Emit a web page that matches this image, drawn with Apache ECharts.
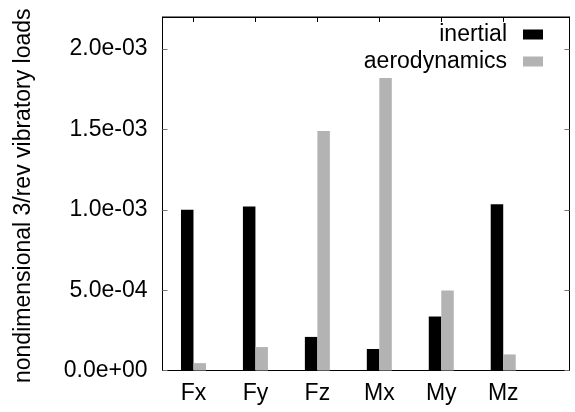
<!DOCTYPE html>
<html><head><meta charset="utf-8">
<script src="https://cdn.jsdelivr.net/npm/echarts@6/dist/echarts.min.js"></script>
<style>html,body{margin:0;padding:0;background:#fff}#c{width:575px;height:412px}</style>
</head><body><div id="c"></div>
<script>
const categories = ['Fx', 'Fy', 'Fz', 'Mx', 'My', 'Mz'];
const inertial = [1.00e-3, 1.02e-3, 0.209e-3, 0.134e-3, 0.336e-3, 1.035e-3];
const aerodynamics = [0.046e-3, 0.146e-3, 1.49e-3, 1.82e-3, 0.498e-3, 0.10e-3];
const yTicks = [0, 5e-4, 1e-3, 1.5e-3, 2e-3];
const seriesNames = ['inertial', 'aerodynamics'];
const yTitle = 'nondimensional 3/rev vibratory loads';

const FONT = 'Liberation Sans, Arial, Helvetica, sans-serif';
const FS = 23;
function fmt(v) {
  if (Math.abs(v) < 1e-12) return '0.0e+00';
  const s = v.toExponential(1);
  const parts = s.split('e');
  const n = parseInt(parts[1], 10);
  return parts[0] + 'e' + (n < 0 ? '-' : '+') + String(Math.abs(n)).padStart(2, '0');
}
const catIdx = categories.map((c, i) => i);
const chart = echarts.init(document.getElementById('c'), null, {renderer: 'canvas'});
const xCommon = {type: 'value', min: -0.5, max: 6.07, splitLine: {show: false},
  axisLine: {show: true, onZero: false, lineStyle: {color: '#000', width: 1}}};
const yCommon = {type: 'value', min: 0, max: 2.2e-3, splitLine: {show: false},
  axisLine: {show: true, onZero: false, lineStyle: {color: '#000', width: 1}}};
chart.setOption({
  animation: false,
  backgroundColor: '#fff',
  grid: {left: 162.5, top: 17, right: 5.5, bottom: 41.5, show: true, borderColor: '#000', borderWidth: 1, backgroundColor: 'transparent'},
  legend: {
    orient: 'vertical', right: 32, top: 23, align: 'right', itemGap: 4, padding: 0,
    itemWidth: 20, itemHeight: 10, icon: 'rect',
    textStyle: {fontFamily: FONT, fontSize: FS, color: '#000', padding: [0, 11, 0, 0]},
    data: seriesNames
  },
  xAxis: [
    Object.assign({}, xCommon, {position: 'bottom',
      axisTick: {show: false},
      axisLabel: {customValues: catIdx, formatter: v => categories[Math.round(v)] || '', fontFamily: FONT, fontSize: FS, color: '#000', margin: 12}}),
    Object.assign({}, xCommon, {position: 'top',
      axisTick: {show: true, inside: true, length: 5, customValues: catIdx, lineStyle: {color: '#000'}},
      axisLabel: {show: false}})
  ],
  yAxis: [
    Object.assign({}, yCommon, {position: 'left',
      axisTick: {show: true, inside: true, length: 5, customValues: yTicks, lineStyle: {color: '#777'}},
      axisLabel: {customValues: yTicks, formatter: fmt, fontFamily: FONT, fontSize: FS, color: '#000', margin: 15}}),
    Object.assign({}, yCommon, {position: 'right',
      axisTick: {show: true, inside: true, length: 5, customValues: yTicks, lineStyle: {color: '#777'}},
      axisLabel: {show: false}})
  ],
  series: [
    {name: seriesNames[0], type: 'bar', xAxisIndex: 0, yAxisIndex: 0, barWidth: 12.5, barGap: '0%',
     itemStyle: {color: '#000'}, data: inertial.map((v, i) => [i, v])},
    {name: seriesNames[1], type: 'bar', xAxisIndex: 0, yAxisIndex: 0, barWidth: 12.5, barGap: '0%',
     itemStyle: {color: '#b3b3b3'}, data: aerodynamics.map((v, i) => [i, v])}
  ],
  graphic: [{
    type: 'text', x: 24, y: 383, rotation: Math.PI / 2,
    style: {text: yTitle, font: FS + 'px ' + FONT, fill: '#000', textAlign: 'left', textVerticalAlign: 'middle'}
  }]
});
</script></body></html>
